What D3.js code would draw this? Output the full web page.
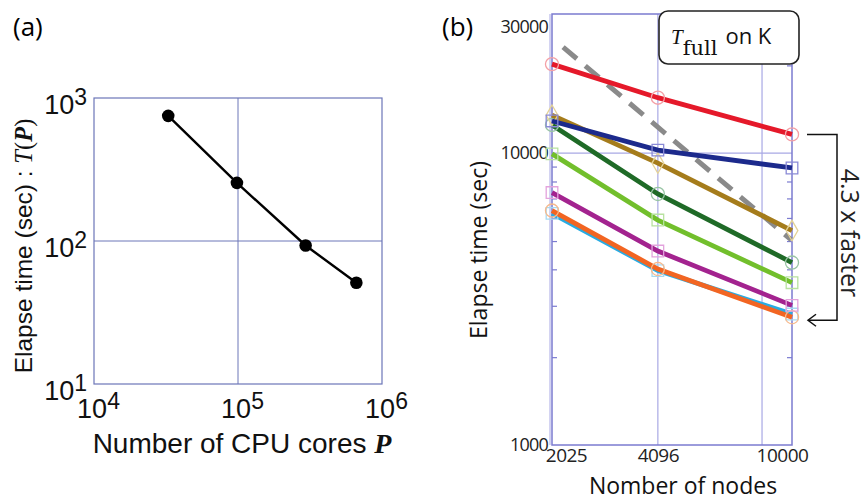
<!DOCTYPE html>
<html>
<head>
<meta charset="utf-8">
<script src="https://cdn.jsdelivr.net/npm/d3@7"></script>
<style>
  body { margin: 0; background: #fff; }
  svg { display: block; }
</style>
</head>
<body>
<div id="chart"></div>
<script>
// panel (a): elapse time vs number of CPU cores
const coresA = [32768, 98304, 294912, 663552];
const timeA = [750, 255, 93, 51];
const xTicksA = [1e4, 1e5, 1e6];
const yTicksA = [10, 100, 1000];

// panel (b): elapse time vs number of nodes
const nodesB = [2025, 4096, 10000];
const redB = [20200, 15500, 11600];
const navyB = [12900, 10250, 8900];
const brownB = [13500, 9250, 5430];
const dkgreenB = [12500, 7250, 4220];
const ltgreenB = [9950, 5900, 3600];
const purpleB = [7330, 4620, 3010];
const cyanB = [6220, 3960, 2810];
const orangeB = [6360, 4010, 2740];
const idealNodes = [2180, 9950];
const idealTime = [23100, 5050];
const yTicksB = [1000, 10000, 30000];
const yMinorB = [2000, 3000, 4000, 5000, 6000, 7000, 8000, 9000, 20000];
const xTickLabelsB = ['2025', '4096', '10000'];
const xGridB = [4096, 8192];

const svg = d3.select('#chart')
  .append('svg')
  .attr('width', 867)
  .attr('height', 501);

const sans = 'Liberation Sans, Arial, sans-serif';
const sansB = 'Open Sans, Noto Sans, sans-serif';
const serif = 'Liberation Serif, DejaVu Serif, serif';

// ---------- panel (a) ----------
const xA = d3.scaleLog().domain([1e4, 1e6]).range([94, 382]);
const yA = d3.scaleLog().domain([10, 1000]).range([384, 98]);
const boxA = '#6c76b8';

svg.append('text').attr('x', 13).attr('y', 36)
  .attr('font-family', sansB).attr('font-size', 26).text('(a)');

const gA = svg.append('g');
gA.append('rect')
  .attr('x', xA(1e4)).attr('y', yA(1000))
  .attr('width', xA(1e6) - xA(1e4)).attr('height', yA(10) - yA(1000))
  .attr('fill', 'none').attr('stroke', boxA).attr('stroke-width', 1.2);
gA.append('line')
  .attr('x1', xA(1e5)).attr('x2', xA(1e5))
  .attr('y1', yA(1000)).attr('y2', yA(10))
  .attr('stroke', boxA).attr('stroke-width', 1);
gA.append('line')
  .attr('x1', xA(1e4)).attr('x2', xA(1e6))
  .attr('y1', yA(100)).attr('y2', yA(100))
  .attr('stroke', boxA).attr('stroke-width', 1);

// tick labels as 10^n
const axA = gA.append('g')
  .attr('transform', `translate(0,${yA(10)})`)
  .call(d3.axisBottom(xA).tickValues(xTicksA).tickSize(0).tickFormat(''));
axA.select('.domain').remove();
axA.selectAll('.tick').each(function (d) {
  const t = d3.select(this).append('text')
    .attr('y', 34).attr('x', 4).attr('text-anchor', 'middle')
    .attr('fill', '#111').attr('font-family', sans).attr('font-size', 27);
  t.append('tspan').text('10');
  t.append('tspan').attr('font-size', 23).attr('dy', -9).text(Math.round(Math.log10(d)));
});

const ayA = gA.append('g')
  .attr('transform', `translate(${xA(1e4)},0)`)
  .call(d3.axisLeft(yA).tickValues(yTicksA).tickSize(0).tickFormat(''));
ayA.select('.domain').remove();
ayA.selectAll('.tick').each(function (d) {
  const t = d3.select(this).append('text')
    .attr('x', -7).attr('y', 15).attr('text-anchor', 'end')
    .attr('fill', '#111').attr('font-family', sans).attr('font-size', 27);
  t.append('tspan').text('10');
  t.append('tspan').attr('font-size', 23).attr('dy', -9).text(Math.round(Math.log10(d)));
});

const ptsA = coresA.map((c, i) => [c, timeA[i]]);
gA.append('path')
  .datum(ptsA)
  .attr('d', d3.line().x(d => xA(d[0])).y(d => yA(d[1])))
  .attr('fill', 'none').attr('stroke', '#000').attr('stroke-width', 2.4);
gA.selectAll('.dotA')
  .data(ptsA)
  .enter()
  .append('circle')
  .attr('cx', d => xA(d[0])).attr('cy', d => yA(d[1]))
  .attr('r', 6.3).attr('fill', '#000');

// axis titles (a)
const ylabA = svg.append('text')
  .attr('transform', 'translate(32,246) rotate(-90)')
  .attr('text-anchor', 'middle')
  .attr('font-family', sans).attr('font-size', 24.5).attr('fill', '#111');
ylabA.append('tspan').text('Elapse time (sec) : ');
ylabA.append('tspan').attr('font-family', serif).attr('font-style', 'italic').text('T');
ylabA.append('tspan').attr('font-family', serif).text('(');
ylabA.append('tspan').attr('font-family', serif).attr('font-style', 'italic').attr('font-weight', 'bold').text('P');
ylabA.append('tspan').attr('font-family', serif).text(')');

const xlabA = svg.append('text')
  .attr('x', 242).attr('y', 453).attr('text-anchor', 'middle')
  .attr('font-family', sans).attr('font-size', 28).attr('fill', '#111');
xlabA.append('tspan').text('Number of CPU cores ');
xlabA.append('tspan').attr('font-family', serif).attr('font-style', 'italic').attr('font-weight', 'bold').text('P');

// ---------- panel (b) ----------
const xB = d3.scaleLog().domain([2025, 10000]).range([552, 792]);
const yB = d3.scaleLog().domain([1000, 30000]).range([445, 14]);
const boxB = '#7b7bd0';
const gridB = '#a8a8e4';

svg.append('text').attr('x', 442).attr('y', 36)
  .attr('font-family', sansB).attr('font-size', 26).text('(b)');

const gB = svg.append('g');
gB.selectAll('.gridx')
  .data(xGridB)
  .enter()
  .append('line')
  .attr('x1', d => xB(d)).attr('x2', d => xB(d))
  .attr('y1', yB(30000)).attr('y2', yB(1000))
  .attr('stroke', gridB).attr('stroke-width', 1.2);
gB.append('line')
  .attr('x1', xB(2025)).attr('x2', xB(10000))
  .attr('y1', yB(10000)).attr('y2', yB(10000))
  .attr('stroke', gridB).attr('stroke-width', 1.2);
gB.append('rect')
  .attr('x', xB(2025)).attr('y', yB(30000))
  .attr('width', xB(10000) - xB(2025)).attr('height', yB(1000) - yB(30000))
  .attr('fill', 'none').attr('stroke', boxB).attr('stroke-width', 1.5);
gB.append('line')
  .attr('x1', xB(2025) - 2).attr('x2', xB(2025) - 2)
  .attr('y1', yB(30000)).attr('y2', yB(1000))
  .attr('stroke', gridB).attr('stroke-width', 1);

// minor ticks on both sides
[[d3.axisRight, xB(2025)], [d3.axisLeft, xB(10000)]].forEach(([ax, x]) => {
  const g = gB.append('g')
    .attr('transform', `translate(${x},0)`)
    .call(ax(yB).tickValues(yMinorB).tickSize(5).tickFormat(''));
  g.select('.domain').remove();
  g.selectAll('.tick line').attr('stroke', boxB).attr('stroke-width', 1.2);
});

const ayB = gB.append('g')
  .attr('transform', `translate(${xB(2025)},0)`)
  .call(d3.axisLeft(yB).tickValues(yTicksB).tickSize(0).tickPadding(4).tickFormat(d3.format('d')));
ayB.select('.domain').remove();
ayB.selectAll('.tick text')
  .attr('font-family', sansB).attr('font-size', 18).attr('fill', '#222')
  .attr('letter-spacing', -0.8)
  .attr('dy', (d, i) => i === 2 ? '1.0em' : '0.32em');

const axB = gB.append('g')
  .attr('transform', `translate(0,${yB(1000)})`)
  .call(d3.axisBottom(xB).tickValues(nodesB).tickSize(0).tickPadding(3)
    .tickFormat((d, i) => xTickLabelsB[i]));
axB.select('.domain').remove();
axB.selectAll('.tick text')
  .attr('font-family', sansB).attr('font-size', 19).attr('fill', '#222')
  .attr('letter-spacing', -0.5)
  .attr('dx', (d, i) => [14, 0, -10][i]);

const seriesB = [
  { vals: cyanB, color: '#29abe2', mark: '#a6daf2', shape: d3.symbolSquare },
  { vals: orangeB, color: '#f26522', mark: '#f7b98c', shape: d3.symbolCircle },
  { vals: purpleB, color: '#a3238f', mark: '#e3a3dd', shape: d3.symbolSquare },
  { vals: ltgreenB, color: '#72bf2c', mark: '#b8e2a0', shape: d3.symbolSquare },
  { vals: dkgreenB, color: '#1f6a27', mark: '#98c4a4', shape: d3.symbolCircle },
  { vals: brownB, color: '#a57c1b', mark: '#e4d296', shape: d3.symbolDiamond },
  { vals: navyB, color: '#1c2a8c', mark: '#8a8ad6', shape: d3.symbolSquare },
  { vals: redB, color: '#e5192a', mark: '#f4a0a6', shape: d3.symbolCircle }
];

const lineB = d3.line().x(d => xB(d[0])).y(d => yB(d[1]));

// ideal scaling (dashed)
gB.append('path')
  .datum(idealNodes.map((n, i) => [n, idealTime[i]]))
  .attr('d', lineB)
  .attr('fill', 'none').attr('stroke', '#8a8a8a').attr('stroke-width', 5)
  .attr('stroke-dasharray', '18,11');

seriesB.forEach(s => {
  const pts = nodesB.map((n, i) => [n, s.vals[i]]);
  gB.append('path')
    .datum(pts)
    .attr('d', lineB)
    .attr('fill', 'none').attr('stroke', s.color).attr('stroke-width', 4.8);
  gB.selectAll(null)
    .data(pts)
    .enter()
    .append('path')
    .attr('transform', d => `translate(${xB(d[0])},${yB(d[1])})`)
    .attr('d', d3.symbol().type(s.shape).size(s.shape === d3.symbolDiamond ? 120 : 135))
    .attr('fill', 'none').attr('stroke', s.mark).attr('stroke-width', 1.3);
});

// label box
gB.append('rect')
  .attr('x', 659).attr('y', 11).attr('width', 140).attr('height', 53).attr('rx', 9)
  .attr('fill', '#fff').attr('stroke', '#222').attr('stroke-width', 1.6);
const boxT = gB.append('text').attr('x', 671).attr('y', 44).attr('fill', '#111');
boxT.append('tspan').attr('font-family', serif).attr('font-style', 'italic').attr('font-size', 21).text('T');
boxT.append('tspan').attr('font-family', 'DejaVu Serif, serif').attr('font-size', 21).attr('dy', 11).text('full');
boxT.append('tspan').attr('font-family', sansB).attr('font-size', 22).attr('dy', -11).attr('dx', 8).text('on K');

// speedup bracket
const yTop = yB(redB[2]);
const yBot = yB(orangeB[2]) + 3;
svg.append('path')
  .attr('d', `M807,${yTop}H837V${yBot}H809`)
  .attr('fill', 'none').attr('stroke', '#111').attr('stroke-width', 1.5);
svg.append('path')
  .attr('d', `M816,${yBot - 6}L808,${yBot}L816,${yBot + 6}`)
  .attr('fill', 'none').attr('stroke', '#111').attr('stroke-width', 1.5);
svg.append('text')
  .attr('transform', 'translate(841,233) rotate(90)')
  .attr('text-anchor', 'middle')
  .attr('font-family', sansB).attr('font-size', 25).attr('fill', '#222')
  .text('4.3 x faster');

// axis titles (b)
svg.append('text')
  .attr('transform', 'translate(487,250) rotate(-90)')
  .attr('text-anchor', 'middle')
  .attr('font-family', sansB).attr('font-size', 23).attr('font-weight', 500).attr('fill', '#111')
  .text('Elapse time (sec)');
svg.append('text')
  .attr('x', 683).attr('y', 494).attr('text-anchor', 'middle')
  .attr('font-family', sansB).attr('font-size', 23).attr('fill', '#111')
  .text('Nomber of nodes');
</script>
</body>
</html>
